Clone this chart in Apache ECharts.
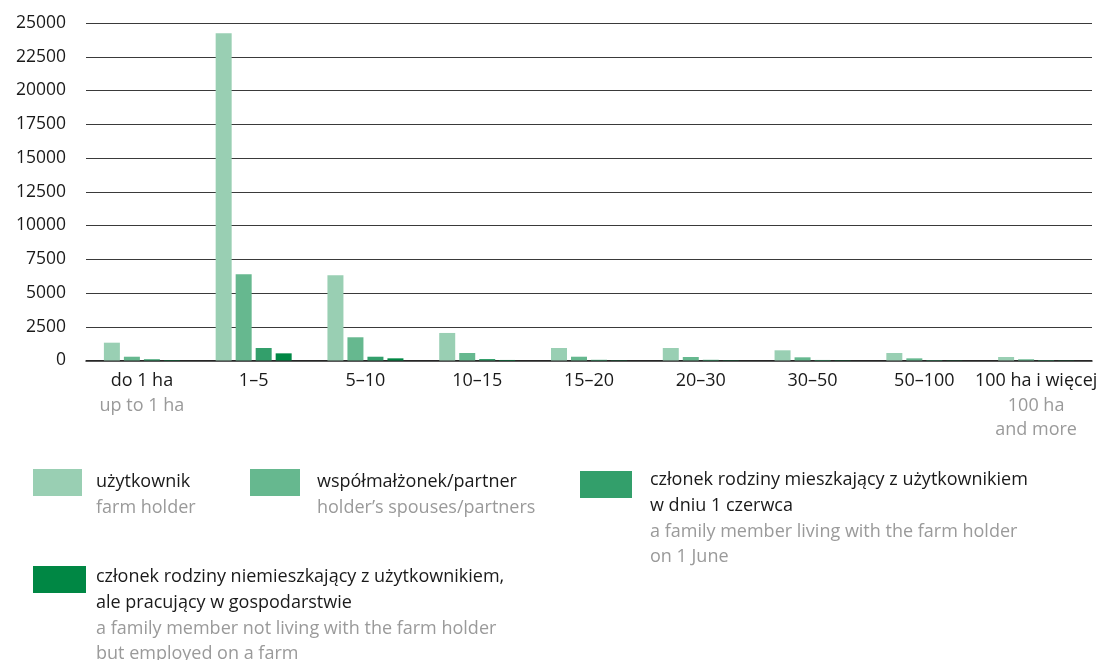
<!DOCTYPE html>
<html><head><meta charset="utf-8">
<script src="https://cdn.jsdelivr.net/npm/echarts@6/dist/echarts.min.js"></script>
<style>html,body{margin:0;padding:0;background:#fff}#c{width:1102px;height:660px}</style>
</head><body><div id="c"></div>
<script>
var categoriesPL = ['do 1 ha','1–5','5–10','10–15','15–20','20–30','30–50','50–100','100 ha i więcej'];
var categoriesEN = ['up to 1 ha','','','','','','','','100 ha\nand more'];
var seriesNamesPL = ['użytkownik','współmałżonek/partner','członek rodziny mieszkający z użytkownikiem\nw dniu 1 czerwca','członek rodziny niemieszkający z użytkownikiem,\nale pracujący w gospodarstwie'];
var seriesNamesEN = ['farm holder','holder’s spouses/partners','a family member living with the farm holder\non 1 June','a family member not living with the farm holder\nbut employed on a farm'];
var holder   = [1320, 24250, 6310, 2040, 925, 925, 755, 555, 260];
var spouse   = [280, 6385, 1720, 555, 280, 260, 235, 160, 90];
var living   = [90, 925, 280, 110, 50, 50, 40, 30, 30];
var employed = [30, 530, 160, 40, 20, 20, 20, 15, 15];
var yTicks = [0, 2500, 5000, 7500, 10000, 12500, 15000, 17500, 20000, 22500, 25000];
var colors = ['#99cfb3','#66b88f','#339f6b','#008744'];

var FONT = 'Open Sans';
var chart = echarts.init(document.getElementById('c'));
var data = [holder, spouse, living, employed];
var series = data.map(function(d,i){
  return {name: seriesNamesPL[i].replace('\n',' '), type:'bar', data:d, barWidth:16, barGap:'25%',
    itemStyle:{color:colors[i]}};
});

// legend as graphic: [rectLeft, rectTop, rectW, textLeft, firstLineCenterY]
var legendPos = [[33,469,49,96,482],[250,469,50,317,482],[580,471,52,650,480],[33,566,53,96,577]];
var LH = 25.7;
var graphic = [];
legendPos.forEach(function(p,i){
  graphic.push({type:'rect', left:p[0], top:p[1], shape:{width:p[2], height:27}, style:{fill:colors[i]}});
  var lines = seriesNamesPL[i].split('\n').map(function(t){return [t,'#1a1a1a'];})
    .concat(seriesNamesEN[i].split('\n').map(function(t){return [t,'#9a9a9a'];}));
  lines.forEach(function(l,k){
    graphic.push({type:'text', x:p[3], y:p[4]+k*LH, style:{text:l[0], font:'18px "'+FONT+'"', fill:l[1], verticalAlign:'middle', align:'left'}});
  });
});

chart.setOption({
  animation:false,
  textStyle:{fontFamily:FONT},
  grid:{left:86, right:10, top:23, bottom:299.5, containLabel:false},
  xAxis:{type:'category', data:categoriesPL,
    axisLine:{lineStyle:{color:'#222', width:1.5}}, axisTick:{show:false},
    axisLabel:{interval:0, margin:8, formatter:function(v,idx){
      var en = categoriesEN[idx];
      var s = '{a|'+v+'}';
      if(en){ en.split('\n').forEach(function(l){ s += '\n{b|'+l+'}'; }); }
      return s;
    }, rich:{a:{fontSize:18, color:'#1a1a1a', lineHeight:25, fontFamily:FONT}, b:{fontSize:18, color:'#9a9a9a', lineHeight:24.5, fontFamily:FONT}}}
  },
  yAxis:{type:'value', min:yTicks[0], max:yTicks[yTicks.length-1], interval:2500,
    axisLine:{show:false}, axisTick:{show:false},
    axisLabel:{fontSize:17.5, color:'#1a1a1a', margin:20, fontFamily:FONT, formatter:function(v){return String(v);}},
    splitLine:{lineStyle:{color:'#3a3a3a', width:1.2}}
  },
  series:series,
  graphic:graphic
});
</script></body></html>
